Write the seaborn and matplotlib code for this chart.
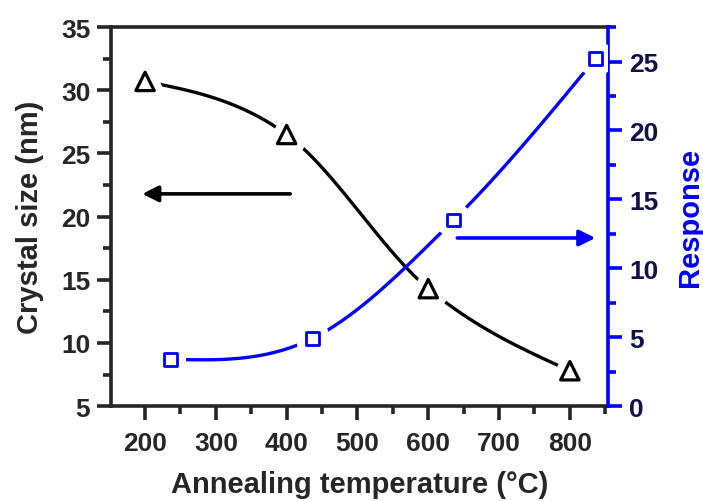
import numpy as np
import pandas as pd
import matplotlib
matplotlib.use('Agg')
import matplotlib.pyplot as plt
import matplotlib.patheffects as pe
from matplotlib.ticker import MultipleLocator
import seaborn as sns

# ------------------ data ------------------
temp_size = [200, 400, 600, 800]
crystal_size = [30.7, 26.5, 14.3, 7.8]
temp_resp = [236, 436, 636, 836]
response = [3.4, 4.9, 13.5, 25.2]

BLUE = '#0000ff'


def smooth(x, y, n=60):
    # cubic hermite through the points, natural-ish end tangents
    x = np.asarray(x, float)
    y = np.asarray(y, float)
    m = np.gradient(y, x)
    d0 = (y[1] - y[0]) / (x[1] - x[0])
    d1 = (y[-1] - y[-2]) / (x[-1] - x[-2])
    m[0] = (3 * d0 - m[1]) / 2
    m[-1] = (3 * d1 - m[-2]) / 2
    xs, ys = [], []
    for i in range(len(x) - 1):
        h = x[i + 1] - x[i]
        t = np.linspace(0, 1, n)
        h00 = 2 * t**3 - 3 * t**2 + 1
        h10 = t**3 - 2 * t**2 + t
        h01 = -2 * t**3 + 3 * t**2
        h11 = t**3 - t**2
        xs.append(x[i] + t * h)
        ys.append(h00 * y[i] + h10 * h * m[i] + h01 * y[i + 1] + h11 * h * m[i + 1])
    return pd.DataFrame({'x': np.concatenate(xs), 'y': np.concatenate(ys)})


sns.set_style("ticks")
plt.rcParams['font.family'] = ['Liberation Sans', 'DejaVu Sans']
plt.rcParams['font.weight'] = 'bold'

fig = plt.figure(figsize=(7.03, 5.02), dpi=100)
ax = fig.add_axes([0.158, 0.189, 0.707, 0.755])
ax2 = ax.twinx()

halo = [pe.Stroke(linewidth=13, foreground='white'), pe.Normal()]

# crystal size (left axis)
sns.lineplot(data=smooth(temp_size, crystal_size), x='x', y='y', ax=ax,
             color='black', lw=2.4, sort=False)
sns.scatterplot(x=temp_size, y=crystal_size, ax=ax, marker='^', s=175,
                facecolor='white', edgecolor='black', linewidth=2.3,
                path_effects=halo, zorder=5)

# response (right axis)
sns.lineplot(data=smooth(temp_resp, response), x='x', y='y', ax=ax2,
             color=BLUE, lw=2.4, sort=False)
sns.scatterplot(x=temp_resp, y=response, ax=ax2, marker='s', s=85,
                facecolor='white', edgecolor=BLUE, linewidth=2.0,
                path_effects=halo, zorder=5)

# direction arrows
ax.annotate('', xy=(196, 21.8), xytext=(405, 21.8),
            arrowprops=dict(arrowstyle='-|>', color='black', lw=2.6,
                            mutation_scale=24, shrinkA=0, shrinkB=0))
ax2.annotate('', xy=(836, 12.2), xytext=(641, 12.2),
             arrowprops=dict(arrowstyle='-|>', color=BLUE, lw=2.6,
                             mutation_scale=24, shrinkA=0, shrinkB=0))

ax.set_xlim(152, 854)
ax.set_ylim(5, 35)
ax2.set_ylim(0, 27.5)

ax.xaxis.set_major_locator(MultipleLocator(100))
ax.xaxis.set_minor_locator(MultipleLocator(50))
ax.yaxis.set_major_locator(MultipleLocator(5))
ax.yaxis.set_minor_locator(MultipleLocator(2.5))
ax2.yaxis.set_major_locator(MultipleLocator(5))
ax2.yaxis.set_minor_locator(MultipleLocator(2.5))

for a in (ax, ax2):
    for s in a.spines.values():
        s.set_linewidth(2.6)
ax.spines['right'].set_visible(False)
ax2.spines['left'].set_visible(False)
ax2.spines['bottom'].set_visible(False)
ax2.spines['top'].set_visible(False)
ax2.spines['right'].set_color(BLUE)

ax.tick_params(axis='x', which='major', length=10, width=2.6,
               labelsize=19, direction='out', pad=8)
ax.tick_params(axis='y', which='major', length=10, width=2.6,
               labelsize=19, direction='out', pad=5)
ax.tick_params(axis='both', which='minor', length=5.5, width=2.6, direction='out')
ax2.tick_params(axis='y', which='major', length=10, width=2.6, color=BLUE,
                labelsize=19, labelcolor='#10104a', direction='out', pad=5)
ax2.tick_params(axis='y', which='minor', length=5.5, width=2.6, color=BLUE,
                direction='out')
for lab in ax.get_xticklabels() + ax.get_yticklabels() + ax2.get_yticklabels():
    lab.set_fontweight('bold')

ax.set_xlabel('Annealing temperature (°C)', fontsize=21, fontweight='bold', labelpad=11)
ax.set_ylabel('Crystal size (nm)', fontsize=21, fontweight='bold', labelpad=12)
ax2.set_ylabel('Response', fontsize=21, fontweight='bold', color=BLUE, labelpad=13)

fig.savefig('out.png', dpi=100)
